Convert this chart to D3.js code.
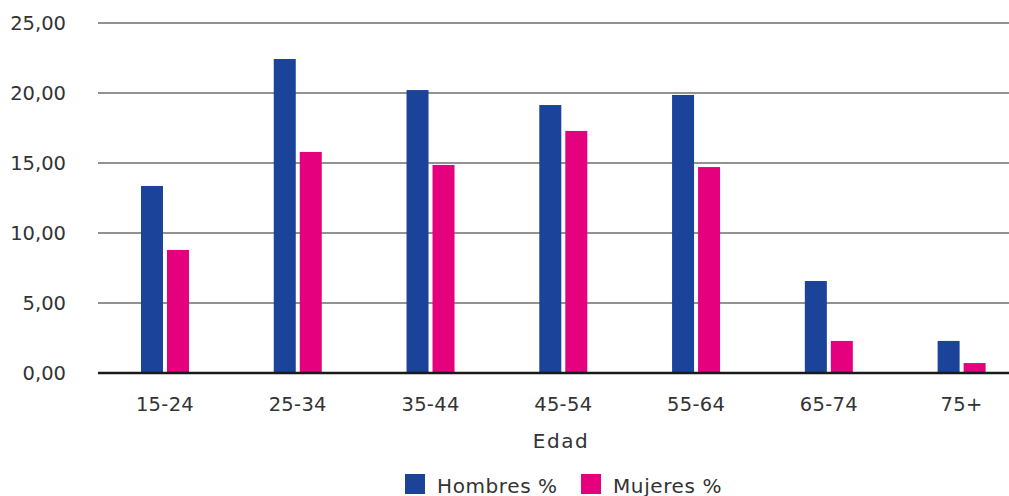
<!DOCTYPE html>
<html>
<head>
<meta charset="utf-8">
<script src="https://cdn.jsdelivr.net/npm/d3@7"></script>
<style>
  html, body { margin: 0; padding: 0; background: #fff; }
  svg { display: block; }
  text { font-family: "DejaVu Sans", sans-serif; fill: #333; }
</style>
</head>
<body>
<svg id="chart" width="1009" height="496"></svg>
<script>
// Age groups and share of each sex (%)
const categories = ["15-24", "25-34", "35-44", "45-54", "55-64", "65-74", "75+"];
const hombres = [13.36, 22.43, 20.21, 19.14, 19.86, 6.57, 2.29];
const mujeres = [8.79, 15.79, 14.86, 17.29, 14.71, 2.29, 0.71];
const yTicks = [0, 5, 10, 15, 20, 25];
const seriesNames = ["Hombres %", "Mujeres %"];
const seriesColors = ["#1b4399", "#e5007d"];

const svg = d3.select("#chart");
const W = 1009;

const y = d3.scaleLinear().domain([0, 25]).range([373, 23]);
const x = d3.scaleBand().domain(categories).range([98.6, 1028]).paddingInner(0).paddingOuter(0);
const barW = 22, barGap = 4;

// Horizontal gridlines
svg.append("g").selectAll("line")
  .data(yTicks.filter(d => d !== 0))
  .join("line")
  .attr("x1", 98).attr("x2", W)
  .attr("y1", d => y(d)).attr("y2", d => y(d))
  .attr("stroke", "#6e6e6e").attr("stroke-width", 1.3);

// Y axis labels
const fmt = d => d3.format(".2f")(d).replace(".", ",");
svg.append("g").selectAll("text")
  .data(yTicks)
  .join("text")
  .attr("x", 66).attr("y", d => y(d))
  .attr("dy", "0.36em")
  .attr("text-anchor", "end")
  .attr("font-size", 19.5)
  .text(fmt);

// Bars
const groups = svg.append("g").selectAll("g")
  .data(categories.map((c, i) => ({ c, vals: [hombres[i], mujeres[i]] })))
  .join("g")
  .attr("transform", d => `translate(${x(d.c) + x.bandwidth() / 2},0)`);

groups.selectAll("rect")
  .data(d => d.vals)
  .join("rect")
  .attr("x", (d, j) => j === 0 ? -(barW + barGap / 2) : barGap / 2)
  .attr("y", d => y(d))
  .attr("width", barW)
  .attr("height", d => y(0) - y(d))
  .attr("fill", (d, j) => seriesColors[j]);

// Baseline
svg.append("line")
  .attr("x1", 98).attr("x2", W)
  .attr("y1", y(0)).attr("y2", y(0))
  .attr("stroke", "#1a1a1a").attr("stroke-width", 2.5);

// X axis labels
svg.append("g").selectAll("text")
  .data(categories)
  .join("text")
  .attr("x", d => x(d) + x.bandwidth() / 2)
  .attr("y", 404)
  .attr("dy", "0.36em")
  .attr("text-anchor", "middle")
  .attr("font-size", 19.5)
  .attr("letter-spacing", 0.3)
  .text(d => d);

// Axis title
svg.append("text")
  .attr("x", 561).attr("y", 441)
  .attr("dy", "0.36em")
  .attr("text-anchor", "middle")
  .attr("font-size", 20)
  .attr("letter-spacing", 1.5)
  .text("Edad");

// Legend
const legendX = [405, 581];
const legend = svg.append("g").selectAll("g")
  .data(seriesNames)
  .join("g")
  .attr("transform", (d, i) => `translate(${legendX[i]},474)`);
legend.append("rect")
  .attr("width", 20).attr("height", 20)
  .attr("fill", (d, i) => seriesColors[i]);
legend.append("text")
  .attr("x", 32).attr("y", 12)
  .attr("dy", "0.36em")
  .attr("font-size", 20)
  .attr("letter-spacing", 0.6)
  .text(d => d);
</script>
</body>
</html>
